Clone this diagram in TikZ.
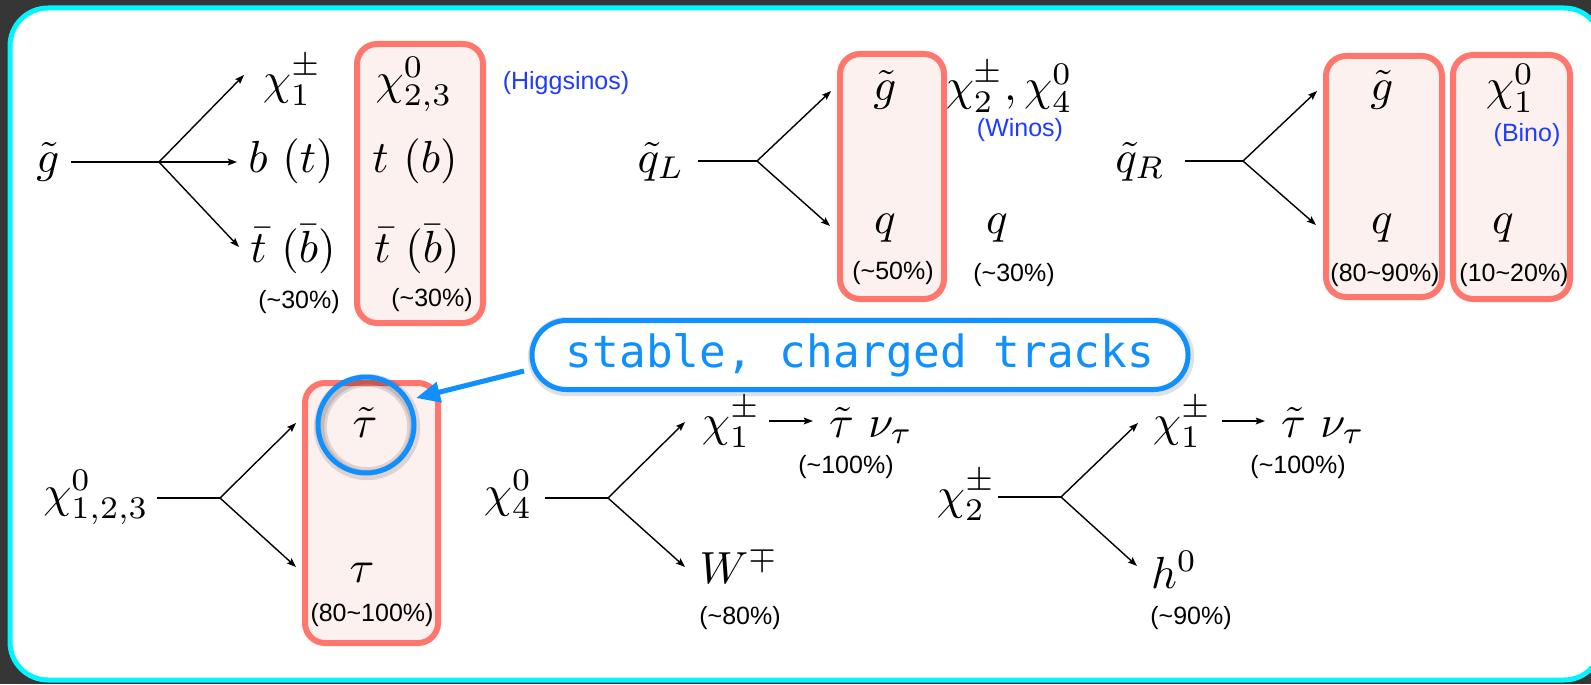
\RequirePackage{fix-cm}
\documentclass[tikz,border=0pt]{standalone}
\usepackage{fontspec}
\newfontfamily\hvfont{Liberation Sans}
\newfontfamily\monofont{DejaVu Sans Mono}
\usetikzlibrary{arrows.meta}
\definecolor{bgdark}{HTML}{363636}
\definecolor{panelcyan}{HTML}{00F5FF}
\definecolor{boxred}{HTML}{FF776C}
\definecolor{boxfill}{HTML}{FDF1F0}
\definecolor{labelblue}{HTML}{1E3CFF}
\definecolor{callblue}{HTML}{1090FF}
\tikzset{
  mth/.style={font=\fontsize{11.25}{13.5}\selectfont, inner sep=0pt, anchor=base},
  pct/.style={font=\hvfont\fontsize{6.25}{7.5}\selectfont, inner sep=0pt},
  bluelbl/.style={pct, text=labelblue},
  rbox/.style={draw=boxred, fill=boxfill, line width=1.5pt, rounded corners=5pt, inner sep=0pt},
  prop/.style={line width=0.35pt, black},
  decay/.style={prop, -{Stealth[length=2.3pt,width=1.7pt,inset=0.4pt]}},
  callarrow/.style={draw=callblue, line width=1.25pt, -{Triangle[length=6pt,width=5pt]}},
  halo/.style={draw=black, opacity=0.12, line width=2.6pt},
  haloin/.style={draw=black, opacity=0.12, line width=1.9pt},
}
\begin{document}
\begin{tikzpicture}[x=0.25pt,y=-0.25pt]
\useasboundingbox (0,0) rectangle (1591,684);
\clip (0,0) rectangle (1591,684);
\fill[bgdark] (0,0) rectangle (1591,684);
\draw[panelcyan, fill=white, line width=1.25pt, rounded corners=9.5pt] (10,8) rectangle (1602,680);

% highlight boxes
\node[rbox, minimum width=31.5pt, minimum height=69.75pt] (boxA) at (420,183.5) {};
\node[rbox, minimum width=26pt, minimum height=61.25pt] (boxB) at (892,176.5) {};
\node[rbox, minimum width=29pt, minimum height=60.25pt] (boxC) at (1384,176.5) {};
\node[rbox, minimum width=29.25pt, minimum height=61pt] (boxD) at (1511.5,177) {};
\node[rbox, minimum width=33.25pt, minimum height=65pt] (boxE) at (371.5,513) {};

% ---- gluino decay ----
\node[mth] (gl) at (48,172) {$\tilde g$};
\coordinate (gls) at (71,162);
\coordinate (glv) at (159,162);
\coordinate (gla) at (244,75);
\coordinate (glb) at (237,162);
\coordinate (glc) at (239,247);
\draw[prop] (gls) -- (glv);
\draw[decay] (glv) -- (gla);
\draw[decay] (glv) -- (glb);
\draw[decay] (glv) -- (glc);
\node[mth] (chiA) at (292,94) {$\chi_1^\pm$};
\node[mth] (bt) at (291,172) {$b\ (t)$};
\node[mth] (tbA) at (293,262) {$\bar t\ (\bar b)$};
\node[pct] (pA) at (299,302) {(\textasciitilde30\%)};
\node[mth] (chiB) at (414,94) {$\chi^0_{2,3}$};
\node[mth] (tb) at (415,172) {$t\ (b)$};
\node[mth] (tbB) at (417,262) {$\bar t\ (\bar b)$};
\node[pct] (pB) at (432,300) {(\textasciitilde30\%)};
\node[bluelbl] (higgs) at (566,83) {(Higgsinos)};

% ---- left squark ----
\node[mth] (qL) at (661,172) {$\tilde q_L$};
\coordinate (qLs) at (698,161);
\coordinate (qLv) at (757,161);
\coordinate (qLa) at (831,91);
\coordinate (qLb) at (830,226);
\draw[prop] (qLs) -- (qLv);
\draw[decay] (qLv) -- (qLa);
\draw[decay] (qLv) -- (qLb);
\node[mth] (gB) at (885,101) {$\tilde g$};
\node[mth] (wino) at (1009,101) {$\chi_2^\pm, \chi_4^0$};
\node[bluelbl] (winolbl) at (1020,130) {(Winos)};
\node[mth] (qa) at (885,233) {$q$};
\node[mth] (qb) at (997,233) {$q$};
\node[pct] (pC) at (893,273) {(\textasciitilde50\%)};
\node[pct] (pD) at (1014,275) {(\textasciitilde30\%)};

% ---- right squark ----
\node[mth] (qR) at (1140,172) {$\tilde q_R$};
\coordinate (qRs) at (1185,161);
\coordinate (qRv) at (1243,161);
\coordinate (qRa) at (1317,91);
\coordinate (qRb) at (1316,225);
\draw[prop] (qRs) -- (qRv);
\draw[decay] (qRv) -- (qRa);
\draw[decay] (qRv) -- (qRb);
\node[mth] (gC) at (1382,101) {$\tilde g$};
\node[mth] (bino) at (1510,101) {$\chi_1^0$};
\node[bluelbl] (binolbl) at (1527,135) {(Bino)};
\node[mth] (qc) at (1382,233) {$q$};
\node[mth] (qd) at (1503,233) {$q$};
\node[pct] (pE) at (1385,275) {(80\textasciitilde90\%)};
\node[pct] (pF) at (1514,275) {(10\textasciitilde20\%)};

% ---- neutralino 1,2,3 ----
\node[mth] (chiC) at (96,507) {$\chi^0_{1,2,3}$};
\coordinate (nAs) at (157,498);
\coordinate (nAv) at (220,498);
\coordinate (nAa) at (296,423);
\coordinate (nAb) at (296,567);
\draw[prop] (nAs) -- (nAv);
\draw[decay] (nAv) -- (nAa);
\draw[decay] (nAv) -- (nAb);
\node[mth] (stau) at (365,437) {$\tilde\tau$};
\node[mth] (tau) at (362,582) {$\tau$};
\node[pct] (pG) at (372,615) {(80\textasciitilde100\%)};

% ---- neutralino 4 ----
\node[mth] (chiD) at (508,507) {$\chi_4^0$};
\coordinate (nBs) at (545,498);
\coordinate (nBv) at (608,498);
\coordinate (nBa) at (685,422);
\coordinate (nBb) at (685,567);
\draw[prop] (nBs) -- (nBv);
\draw[decay] (nBv) -- (nBa);
\draw[decay] (nBv) -- (nBb);
\node[mth] (chiE) at (731,436) {$\chi_1^\pm$};
\coordinate (sBs) at (769,421);
\coordinate (sBe) at (813,421);
\draw[decay] (sBs) -- (sBe);
\node[mth] (stnuA) at (871,437) {$\tilde\tau\ \nu_\tau$};
\node[pct] (pH) at (846,467) {(\textasciitilde100\%)};
\node[mth] (W) at (739,583) {$W^\mp$};
\node[pct] (pI) at (740,618) {(\textasciitilde80\%)};

% ---- chargino 2 ----
\node[mth] (chiF) at (966,509) {$\chi_2^\pm$};
\coordinate (nCs) at (998,497);
\coordinate (nCv) at (1061,497);
\coordinate (nCa) at (1138,423);
\coordinate (nCb) at (1137,566);
\draw[prop] (nCs) -- (nCv);
\draw[decay] (nCv) -- (nCa);
\draw[decay] (nCv) -- (nCb);
\node[mth] (chiG) at (1182,436) {$\chi_1^\pm$};
\coordinate (sCs) at (1222,421);
\coordinate (sCe) at (1265,421);
\draw[decay] (sCs) -- (sCe);
\node[mth] (stnuB) at (1323,437) {$\tilde\tau\ \nu_\tau$};
\node[pct] (pJ) at (1298,467) {(\textasciitilde100\%)};
\node[mth] (h) at (1174,588) {$h^0$};
\node[pct] (pK) at (1191,618) {(\textasciitilde90\%)};

% ---- callout ----
\draw[halo] (367,427) circle[radius=12pt];
\draw[haloin] (367,427) circle[radius=11pt];
\node[circle, draw=callblue, line width=1.25pt, minimum size=24pt, inner sep=0pt] (circ) at (366,425) {};
\draw[halo, rounded corners=8.6pt] (533,322) rectangle (1189,391);
\node[draw=callblue, fill=white, line width=1.25pt, rounded corners=8.6pt,
      minimum width=164pt, minimum height=17.25pt, inner sep=0pt,
      text=callblue, font=\monofont\fontsize{11.1}{13}\selectfont] (callout) at (860,355) {stable, charged tracks};
\coordinate (ctail) at (524,371);
\coordinate (ctip) at (416,398);
\draw[callarrow] (ctail) -- (ctip);
\end{tikzpicture}
\end{document}
